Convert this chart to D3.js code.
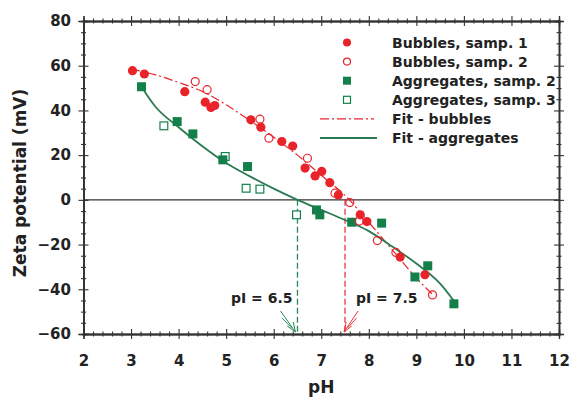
<!DOCTYPE html>
<html>
<head>
<meta charset="utf-8">
<script src="https://cdn.jsdelivr.net/npm/d3@7"></script>
<style>
	body { margin: 0; background: #fff; }
	svg { display: block; font-family: 'DejaVu Sans', sans-serif; font-weight: bold; }
</style>
</head>
<body>
<div class="chart"></div>
<script>
// data: [pH, zeta mV]
const bubbles1 = [[3.03,57.8],[3.28,56.3],[4.13,48.4],[4.56,43.7],[4.68,41.3],[4.76,42.2],[5.52,35.8],[5.73,32.5],
	[6.17,26.1],[6.40,24.1],[6.66,14.2],[6.87,10.7],[7.01,12.7],[7.18,7.7],[7.36,2.2],[7.82,-6.7],[7.96,-9.7],[8.66,-25.6],[9.18,-33.5]]
const bubbles2 = [[4.35,52.9],[4.60,49.3],[5.71,36.1],[5.90,27.6],[6.71,18.6],[7.29,3.0],[7.60,-1.2],[7.80,-9.5],
	[8.18,-18.2],[8.57,-23.5],[9.34,-42.5]]
const aggregates2 = [[3.22,50.6],[3.97,35.0],[4.30,29.5],[4.93,17.9],[5.45,14.9],[6.90,-4.5],[6.97,-6.7],[7.64,-10.0],
	[8.27,-10.4],[8.97,-34.5],[9.24,-29.5],[9.79,-46.5]]
const aggregates3 = [[3.69,33.1],[4.98,19.4],[5.42,5.2],[5.71,4.8],[6.48,-6.7]]
const fitBubbles = [[3.0,58.5],[3.5,56],[4,52.5],[4.5,48.5],[5,42.5],[5.5,35.5],[6,28],[6.5,20],[7,11],[7.5,2],
	[8,-10],[8.5,-22.5],[9,-35],[9.35,-42.5]]
const fitAggregates = [[3.22,50.6],[3.5,42],[4,32.5],[4.5,24],[5,16.5],[5.5,10.5],[6,5],[6.5,0],[7,-4.5],[7.5,-9],
	[8,-14],[8.5,-21],[9,-28.5],[9.5,-37.5],[9.8,-45.5]]
const isoPoints = [{label: 'pI = 6.5', ph: 6.5, color: '#2a8a5a'}, {label: 'pI = 7.5', ph: 7.5, color: '#e8373c'}]
const legendLabels = ['Bubbles, samp. 1', 'Bubbles, samp. 2', 'Aggregates, samp. 2', 'Aggregates, samp. 3', 'Fit - bubbles', 'Fit - aggregates']
const xTicks = [2,3,4,5,6,7,8,9,10,11,12]
const yTicks = [-60,-40,-20,0,20,40,60,80]

const red = '#e8232a'
const green = '#13804a'
const width = 572
const height = 399
const m = {left: 83.5, right: 13, top: 21, bottom: 65}

const svg = d3.select('.chart')
	.append('svg')
	.attr('width', width)
	.attr('height', height)

const x = d3.scaleLinear().domain([2, 12]).range([m.left, width - m.right])
const y = d3.scaleLinear().domain([-60, 80]).range([height - m.bottom, m.top])
const x0 = x.range()[0], x1 = x.range()[1], y0 = y.range()[0], y1 = y.range()[1]

// crossing ticks: one axis pointing out, one pointing in
function ticks(axisFn, scale, g, values, size, labels) {
	g.append('g').call(axisFn(scale).tickValues(values).tickSize(size).tickFormat(labels ? d3.format('d') : ''))
	g.append('g').call(axisFn(scale).tickValues(values).tickSize(-size).tickFormat(''))
}
const xMinor = d3.range(2, 12.01, 0.2).filter(v => Math.abs(v - Math.round(v)) > 0.01)
const yMinor = d3.range(-60, 80.01, 5).filter(v => v % 20 != 0)

const gB = svg.append('g').attr('transform', `translate(0,${y0})`)
ticks(d3.axisBottom, x, gB, xTicks, 5, true)
ticks(d3.axisBottom, x, gB, xMinor, 2.5, false)
const gT = svg.append('g').attr('transform', `translate(0,${y1})`)
ticks(d3.axisTop, x, gT, xTicks, 5, false)
ticks(d3.axisTop, x, gT, xMinor, 2.5, false)
const gL = svg.append('g').attr('transform', `translate(${x0},0)`)
ticks(d3.axisLeft, y, gL, yTicks, 5, true)
ticks(d3.axisLeft, y, gL, yMinor, 2.5, false)
const gR = svg.append('g').attr('transform', `translate(${x1},0)`)
ticks(d3.axisRight, y, gR, yTicks, 5, false)
ticks(d3.axisRight, y, gR, yMinor, 2.5, false)

svg.selectAll('.domain').attr('stroke', '#333').attr('stroke-width', 1.3)
svg.selectAll('.tick line').attr('stroke', '#333').attr('stroke-width', 1.1)
svg.selectAll('.tick text')
	.attr('font-size', '15px')
	.attr('font-weight', 'bold')
	.attr('font-family', "'DejaVu Sans', sans-serif")
	.attr('fill', '#222')
gB.selectAll('.tick text').attr('dy', '1.6em')
gL.selectAll('.tick text').attr('dx', '-0.3em')

// zero line
svg.append('line')
	.attr('x1', x0).attr('x2', x1)
	.attr('y1', y(0)).attr('y2', y(0))
	.attr('stroke', '#333')
	.attr('stroke-width', 1.3)

// axis titles
svg.append('text')
	.text('pH')
	.attr('x', (x0 + x1) / 2)
	.attr('y', 393)
	.attr('text-anchor', 'middle')
	.attr('font-size', '17px')
	.attr('fill', '#222')
svg.append('text')
	.text('Zeta potential (mV)')
	.attr('transform', `translate(26,183) rotate(-90)`)
	.attr('text-anchor', 'middle')
	.attr('font-size', '17px')
	.attr('fill', '#222')

// pI lines, labels, arrows
isoPoints.forEach((p, i) => {
	svg.append('line')
		.attr('x1', x(p.ph)).attr('x2', x(p.ph))
		.attr('y1', y(0)).attr('y2', y0)
		.attr('stroke', p.color)
		.attr('stroke-width', 1.3)
		.attr('stroke-dasharray', '6,3')
	const tx = i == 0 ? x(p.ph) - 5 : x(p.ph) + 11
	svg.append('text')
		.text(p.label)
		.attr('x', tx)
		.attr('y', 303)
		.attr('text-anchor', i == 0 ? 'end' : 'start')
		.attr('font-size', '14px')
		.attr('fill', '#222')
	// arrow pointing at the axis
	const tipX = x(p.ph) - 2 + i * 1, tipY = y0 - 2
	const dx = i == 0 ? -15 : 14
	const arrow = svg.append('g').attr('stroke', p.color).attr('stroke-width', 1).attr('fill', 'none')
	arrow.append('line').attr('x1', tipX + dx).attr('y1', tipY - 21).attr('x2', tipX).attr('y2', tipY)
	arrow.append('path')
		.attr('d', `M${tipX + dx * 0.55},${tipY - 6} L${tipX},${tipY} L${tipX + dx * 0.15},${tipY - 10}`)
	arrow.append('line').attr('x1', tipX + dx * 0.9).attr('y1', tipY - 14).attr('x2', tipX + dx * 0.25).attr('y2', tipY - 4)
})

// fit curves
const line = d3.line().x(d => x(d[0])).y(d => y(d[1])).curve(d3.curveMonotoneX)
svg.append('path')
	.attr('d', line(fitBubbles))
	.attr('fill', 'none')
	.attr('stroke', red)
	.attr('stroke-width', 1.2)
	.attr('stroke-dasharray', '9,3,2,3')
svg.append('path')
	.attr('d', line(fitAggregates))
	.attr('fill', 'none')
	.attr('stroke', '#2a7a52')
	.attr('stroke-width', 1.8)

// markers
const sq = 9
svg.selectAll('rect.agg3')
	.data(aggregates3)
	.enter()
	.append('rect')
	.attr('x', d => x(d[0]) - sq / 2 + 0.6)
	.attr('y', d => y(d[1]) - sq / 2 + 0.6)
	.attr('width', sq - 1.2)
	.attr('height', sq - 1.2)
	.attr('fill', '#fff')
	.attr('stroke', green)
	.attr('stroke-width', 1.2)
svg.selectAll('rect.agg2')
	.data(aggregates2)
	.enter()
	.append('rect')
	.attr('x', d => x(d[0]) - sq / 2)
	.attr('y', d => y(d[1]) - sq / 2)
	.attr('width', sq)
	.attr('height', sq)
	.attr('fill', green)
svg.selectAll('circle.b1')
	.data(bubbles1)
	.enter()
	.append('circle')
	.attr('cx', d => x(d[0]))
	.attr('cy', d => y(d[1]))
	.attr('r', 4.6)
	.attr('fill', red)
svg.selectAll('circle.b2')
	.data(bubbles2)
	.enter()
	.append('circle')
	.attr('cx', d => x(d[0]))
	.attr('cy', d => y(d[1]))
	.attr('r', 4)
	.attr('fill', 'none')
	.attr('stroke', red)
	.attr('stroke-width', 1.2)

// legend
const lg = svg.append('g')
const rowY = i => 42.5 + i * 19.1
const mx = 347
lg.append('circle').attr('cx', mx).attr('cy', rowY(0)).attr('r', 4).attr('fill', red)
lg.append('circle').attr('cx', mx).attr('cy', rowY(1)).attr('r', 3.5).attr('fill', 'none').attr('stroke', red).attr('stroke-width', 1.2)
lg.append('rect').attr('x', mx - 4).attr('y', rowY(2) - 4).attr('width', 8).attr('height', 8).attr('fill', green)
lg.append('rect').attr('x', mx - 3.5).attr('y', rowY(3) - 3.5).attr('width', 7).attr('height', 7).attr('fill', '#fff').attr('stroke', green).attr('stroke-width', 1.2)
lg.append('line').attr('x1', 320).attr('x2', 374).attr('y1', rowY(4)).attr('y2', rowY(4))
	.attr('stroke', red).attr('stroke-width', 1.2).attr('stroke-dasharray', '9,3,2,3')
lg.append('line').attr('x1', 320).attr('x2', 377).attr('y1', rowY(5)).attr('y2', rowY(5))
	.attr('stroke', '#2a7a52').attr('stroke-width', 1.8)
lg.selectAll('text')
	.data(legendLabels)
	.enter()
	.append('text')
	.text(d => d)
	.attr('x', 392)
	.attr('y', (d, i) => rowY(i) + 5)
	.attr('font-size', '14px')
	.attr('fill', '#222')
</script>
</body>
</html>
